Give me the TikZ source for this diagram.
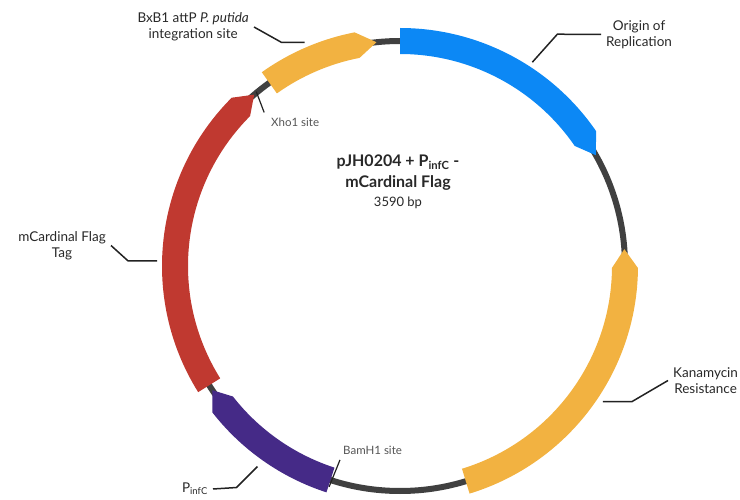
\documentclass[tikz,border=0pt]{standalone}
\usepackage{fontspec}
\setmainfont{Lato}

\definecolor{oriblue}{RGB}{12,136,245}
\definecolor{kanorange}{RGB}{242,178,65}
\definecolor{cardred}{RGB}{192,57,48}
\definecolor{infcpurple}{RGB}{69,42,135}
\definecolor{ringgray}{RGB}{64,64,64}
\definecolor{leadgray}{RGB}{34,34,34}
\definecolor{labelgray}{RGB}{40,40,40}
\definecolor{sitegray}{RGB}{85,85,85}

% thick arrow band on the ring: colour, tail angle, shoulder angle, tip angle
\newcommand{\plasmidarc}[4]{%
  \fill[#1] (#2:238) arc[start angle=#2, end angle=#3, radius=238]
    -- (#4:225) -- (#3:212)
    arc[start angle=#3, end angle=#2, radius=212] -- cycle;
}

\begin{document}
\begin{tikzpicture}[
    x=1pt, y=1pt,
    backbone/.style={line width=6, draw=ringgray},
    leader/.style={line width=1.5, draw=leadgray},
    sitetick/.style={line width=1.2, draw=leadgray},
    lbl/.style={text=labelgray, font=\fontsize{13.5}{16}\selectfont, align=center, inner sep=5pt},
    sitelbl/.style={text=sitegray, font=\fontsize{11.5}{13}\selectfont, inner sep=0pt},
  ]
  \useasboundingbox (0,0) rectangle (740,499);

  \begin{scope}[shift={(400,233)}]
    \draw[backbone] (0,0) circle[radius=225];

    \plasmidarc{oriblue}{90}{34.5}{29.5}
    \plasmidarc{kanorange}{-73}{-0.5}{4.3}
    \plasmidarc{kanorange}{125.5}{101}{96}
    \plasmidarc{cardred}{212}{135}{130.4}
    \plasmidarc{infcpurple}{252}{218}{213.5}

    % where the leaders leave the ring
    \coordinate (ori-pin)  at (57:243);
    \coordinate (kan-pin)  at (-33.8:244);
    \coordinate (attp-pin) at (113.1:243);
    \coordinate (card-pin) at (178.8:243);
    \coordinate (infc-pin) at (234.6:246);

    % restriction sites
    \coordinate (xho-in)   at (131.5:205);
    \coordinate (xho-out)  at (129.5:226);
    \coordinate (bam-in)   at (252.8:203);
    \coordinate (bam-out)  at (252.2:232);
  \end{scope}

  \node[align=center, text=labelgray, font=\fontsize{16}{20.5}\selectfont\bfseries] (title) at (398,317)
    {pJH0204 + P\textsubscript{infC} -\\
     mCardinal Flag\\[-1pt]
     {\fontsize{13}{16}\selectfont\mdseries 3590 bp}};

  \node[lbl, anchor=west] (ori-lbl)  at (601,464.5) {Origin of\\Replication};
  \node[lbl, anchor=west] (kan-lbl)  at (668,118.5) {Kanamycin\\Resistance};
  \node[lbl, anchor=east] (attp-lbl) at (254,472) {BxB1 attP \textit{P. putida}\\integration site};
  \node[lbl, anchor=east] (card-lbl) at (111,253.5) {mCardinal Flag\\Tag};
  \node[lbl, anchor=east] (infc-lbl) at (213,10) {P\textsubscript{infC}};

  \node[sitelbl, anchor=west] (xho-lbl) at (271,377) {Xho1 site};
  \node[sitelbl, anchor=west] (bam-lbl) at (343,49) {BamH1 site};

  \draw[leader] (ori-pin) -- ++(25,28) -- (ori-lbl.west);
  \draw[leader] (kan-pin) -- ++(29,0) -- (kan-lbl.west);
  \draw[leader] (attp-pin) -- ++(-23,0) -- (attp-lbl.east);
  \draw[leader] (card-pin) -- ++(-29,0) -- (card-lbl.east);
  \draw[leader] (infc-pin) -- ++(-21,-21) -- (infc-lbl.east);

  \draw[sitetick] (xho-out) -- (xho-in);
  \draw[sitetick] (bam-in) -- (bam-out);
\end{tikzpicture}
\end{document}
